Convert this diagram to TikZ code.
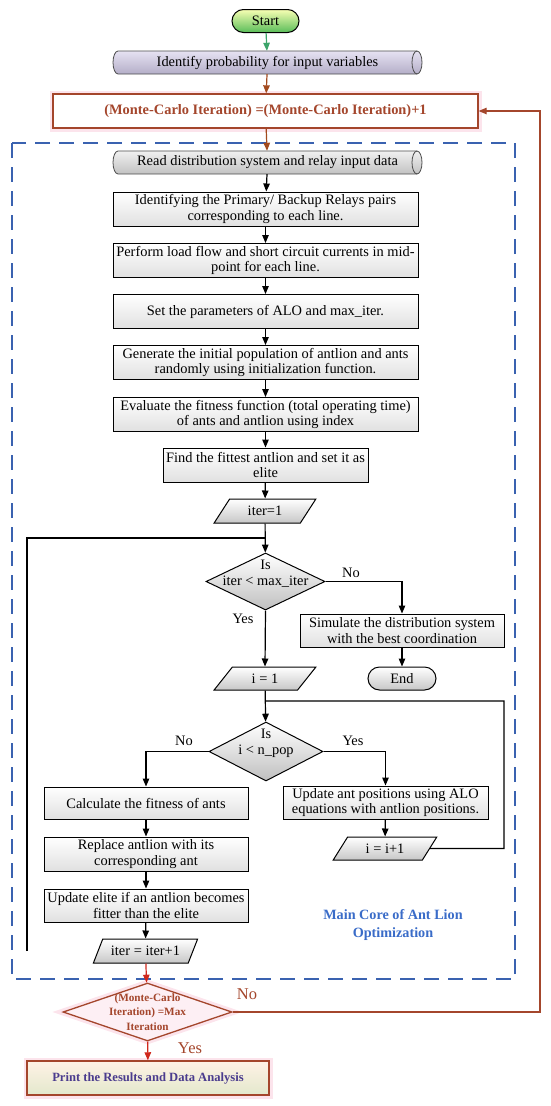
\documentclass[tikz,border=0pt]{standalone}
\usepackage{fontspec}
\setmainfont{Liberation Serif}
\usetikzlibrary{shapes.geometric,shapes.misc,arrows.meta}
\definecolor{mcbrown}{HTML}{A4462C}
\definecolor{arrbrown}{HTML}{A34A1E}
\definecolor{arrred}{HTML}{D0281C}
\definecolor{dashblue}{HTML}{3A62B0}
\definecolor{coreblue}{HTML}{3A6CC8}
\definecolor{printtext}{HTML}{4B3C8E}
\definecolor{greenarr}{HTML}{3CA46A}
\definecolor{glowpink}{HTML}{FCE4EC}
\definecolor{lav}{HTML}{E6E2F2}
\definecolor{lavdark}{HTML}{B4AEC8}
% horizontal tube: centre x, centre y, half width, style
\newcommand{\mytube}[4]{%
  \path[#4] ({#1-#3+5},{#2-11.5}) -- ({#1+#3-5},{#2-11.5})
    .. controls +(2.76,0) and +(0,-6.35) .. ({#1+#3},{#2})
    .. controls +(0,6.35) and +(2.76,0) .. ({#1+#3-5},{#2+11.5})
    -- ({#1-#3+5},{#2+11.5})
    .. controls +(-2.76,0) and +(0,6.35) .. ({#1-#3},{#2})
    .. controls +(0,-6.35) and +(-2.76,0) .. cycle;
  \draw[black!70, line width=0.8pt] ({#1+#3-5},{#2-11.5})
    .. controls +(-2.76,0) and +(0,-6.35) .. ({#1+#3-10},{#2})
    .. controls +(0,6.35) and +(-2.76,0) .. ({#1+#3-5},{#2+11.5});
}
\begin{document}
\begin{tikzpicture}[x=1pt,y=-1pt,
  base/.style={font=\fontsize{14.4}{15.5}\selectfont, align=center, inner sep=0pt},
  stdbox/.style={base, rectangle, draw=black, line width=1pt, top color=white, middle color=white, bottom color=black!12, minimum height=34pt},
  tubebox/.style={base, rectangle, minimum height=23pt, minimum width=309pt},
  para/.style={base, trapezium, trapezium left angle=52, trapezium right angle=128, trapezium stretches=true, draw=black, line width=1pt, top color=white, bottom color=black!22, minimum height=24pt},
  dia/.style={diamond, draw=black, line width=1pt, inner sep=0pt, top color=white, bottom color=black!25},
  term/.style={base, rounded rectangle, draw=black, line width=1pt, minimum height=23pt},
  arr/.style={-{Triangle[length=8pt,width=6.5pt]}, line width=1.2pt, black},
  plain/.style={line width=1.2pt, black},
  lab/.style={font=\fontsize{14.4}{15.5}\selectfont, inner sep=0pt},
  biglab/.style={font=\fontsize{16.5}{18}\selectfont, inner sep=0pt, text=mcbrown},
  glow/.style={preaction={draw=glowpink, line width=7pt}}
]
\useasboundingbox (0,0) rectangle (550,1106);

% dashed frame
\draw[dashblue, line width=1.6pt, dash pattern=on 15pt off 9pt] (12,143) rectangle (515,979);

% tube bodies
\mytube{267.5}{62.5}{154.5}{draw=black!70, line width=0.8pt, top color=lav, middle color=lav!40, bottom color=lavdark}
\mytube{267.5}{162.5}{154.5}{draw=black!70, line width=0.8pt, top color=black!6, middle color=white, bottom color=black!24}

% nodes
\node[term, top color=green!10!yellow!30, bottom color=green!60!black!65, minimum width=67pt] (start) at (265.5,21) {Start};
\node[tubebox] (ident) at (267.5,62.5) {Identify probability for input variables};
\node[base, rectangle, draw=mcbrown, line width=1.3pt, fill=white, glow, minimum width=425pt, minimum height=34pt, font=\bfseries\fontsize{14.4}{15.5}\selectfont, text=mcbrown] (mc) at (265.5,111) {(Monte-Carlo Iteration) =(Monte-Carlo Iteration)+1};
\node[tubebox] (read) at (267.5,162.5) {Read distribution system and relay input data};
\node[stdbox, minimum width=305pt] (ident2) at (265.5,209) {Identifying the Primary/ Backup Relays pairs\\corresponding to each line.};
\node[stdbox, minimum width=305pt] (perf) at (265.5,260.5) {Perform load flow and short circuit currents in mid-\\point for each line.};
\node[stdbox, minimum width=305pt] (setp) at (265.5,311.5) {Set the parameters of ALO and max\_iter.};
\node[stdbox, minimum width=305pt] (gen) at (265.5,362.5) {Generate the initial population of antlion and ants\\randomly using initialization function.};
\node[stdbox, minimum width=305pt] (eval) at (265.5,414.5) {Evaluate the fitness function (total operating time)\\of ants and antlion using index};
\node[stdbox, minimum width=205pt] (find) at (265.5,465) {Find the fittest antlion and set it as\\elite};
\node[para, minimum width=102pt] (it1) at (265,511) {iter=1};
\node[dia, minimum width=119pt, minimum height=57pt] (d1) at (265.5,581.5) {};
\node[base] at ([yshift=8pt]d1.center) {Is\\iter < max\_iter};
\node[stdbox, minimum width=204pt, minimum height=33pt] (sim) at (402,630.5) {Simulate the distribution system\\with the best coordination};
\node[term, top color=white, bottom color=black!22, minimum width=68pt] (endn) at (402,678.5) {End};
\node[para, minimum width=102pt, minimum height=23pt] (i1) at (265,678.5) {i = 1};
\node[dia, minimum width=114pt, minimum height=59pt] (d2) at (266,751.5) {};
\node[base] at ([yshift=8pt]d2.center) {Is\\i < n\_pop};
\node[stdbox, minimum width=204pt, minimum height=32pt] (calc) at (146,803) {Calculate the fitness of ants};
\node[stdbox, minimum width=204pt] (repl) at (146,854) {Replace antlion with its\\corresponding ant};
\node[stdbox, minimum width=204pt, minimum height=33pt] (upd) at (146,905.5) {Update elite if an antlion becomes\\fitter than the elite};
\node[para, minimum width=105pt] (it2) at (145.5,951) {iter = iter+1};
\node[stdbox, minimum width=205pt, minimum height=33pt] (ant) at (385.5,802.5) {Update ant positions using ALO\\equations with antlion positions.};
\node[para, minimum width=104pt, minimum height=23pt] (ii) at (385,848.5) {i = i+1};
\node[base, font=\bfseries\fontsize{14.2}{18}\selectfont, text=coreblue] (core) at (393,925) {Main Core of Ant Lion\\Optimization};
\node[diamond, draw=mcbrown, line width=1.3pt, fill=glowpink!60, glow, inner sep=0pt, minimum width=169pt, minimum height=58pt] (mcd) at (147.5,1012) {};
\node[base, font=\bfseries\fontsize{11.2}{14.5}\selectfont, text=mcbrown] at (mcd.center) {(Monte-Carlo\\Iteration) =Max\\Iteration};
\node[base, rectangle, draw=mcbrown, line width=1.5pt, glow, top color=white!90!orange, bottom color=green!10!olive!20, minimum width=242pt, minimum height=34pt, font=\bfseries\fontsize{12.6}{15}\selectfont, text=printtext] (print) at (148,1078) {Print the Results and Data Analysis};

% labels
\node[lab] at (351,573) {No};
\node[lab] at (243,619) {Yes};
\node[lab] at (184,741) {No};
\node[lab] at (353,741) {Yes};
\node[biglab] at (247,994) {No};
\node[biglab] at (190,1048) {Yes};

% coordinates
\coordinate (loopL) at (27,951);
\coordinate (loopLT) at (27,538);
\coordinate (loopJ) at (265,538);
\coordinate (rloopB) at (504,848.5);
\coordinate (rloopT) at (504,701);
\coordinate (rloopJ) at (265,701);
\coordinate (mcR) at (540,1012);

% connectors
\draw[arr, greenarr] (start) -- (ident);
\draw[arr, arrbrown] (ident) -- (mc);
\draw[arr, arrbrown] (mc) -- (read);
\draw[arr] (read) -- (ident2);
\draw[arr] (ident2) -- (perf);
\draw[arr] (perf) -- (setp);
\draw[arr] (setp) -- (gen);
\draw[arr] (gen) -- (eval);
\draw[arr] (eval) -- (find);
\draw[arr] (find) -- (it1);
\draw[arr] (it1) -- (d1);
\draw[plain] (loopL) -- (loopLT) -- (loopJ);
\draw[arr] (d1.east) -| (sim.north);
\draw[arr] (sim) -- (endn);
\draw[arr] (d1.south) -- (i1.north);
\draw[arr] (i1) -- (d2);
\draw[plain] (ii.east) -- (rloopB) -- (rloopT) -- (rloopJ);
\draw[arr] (d2.west) -| (calc.north);
\draw[arr] (d2.east) -| (ant.north);
\draw[arr] (ant) -- (ii);
\draw[arr] (calc) -- (repl);
\draw[arr] (repl) -- (upd);
\draw[arr] (upd) -- (it2);
\draw[arr, arrred] (it2) -- (mcd);
\draw[arr, arrred] (mcd) -- (print);
\draw[arr, mcbrown] (mcd.east) -- (mcR) |- (mc.east);
\end{tikzpicture}
\end{document}
